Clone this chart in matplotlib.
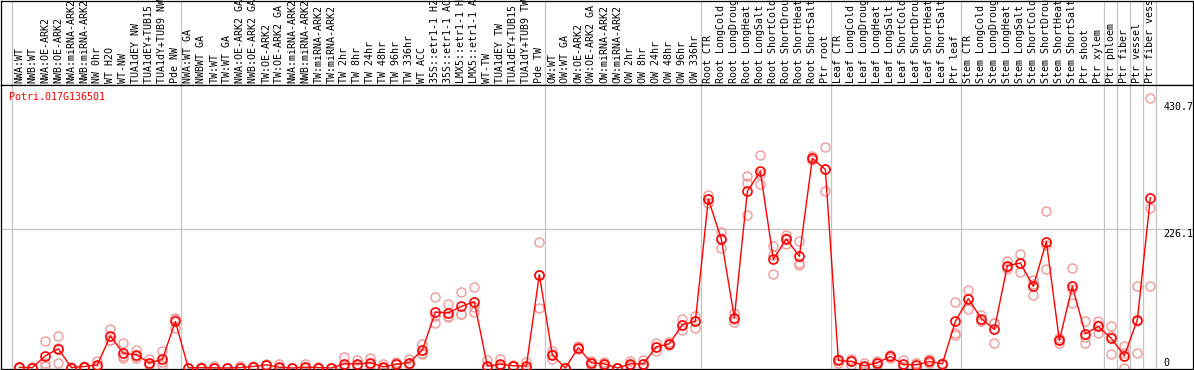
import matplotlib
matplotlib.use("Agg")
import matplotlib.pyplot as plt
import numpy as np

gene = "Potri.017G136501"

labels = [
    # group 1
    "NWA:WT", "NWB:WT", "NWA:OE-ARK2", "NWB:OE-ARK2", "NWA:miRNA-ARK2", "NWB:miRNA-ARK2",
    "NW 0hr", "WT H2O", "WT-NW", "TUA1dEY NW", "TUA1dEY+TUB15 NW", "TUA1dY+TUB9 NW", "Pde NW",
    # group 2
    "NWA:WT GA", "NWBWT GA", "TW:WT", "TW:WT GA", "NWA:OE-ARK2 GA", "NWB:OE-ARK2 GA",
    "TW:OE-ARK2", "TW:OE-ARK2 GA", "NWA:miRNA-ARK2", "NWB:miRNA-ARK2", "TW:miRNA-ARK2",
    "TW:miRNA-ARK2", "TW 2hr", "TW 8hr", "TW 24hr", "TW 48hr", "TW 96hr", "TW 336hr", "WT ACC",
    "35S::etr1-1 H2O", "35S::etr1-1 ACC", "LMX5::etr1-1 H2O", "LMX5::etr1-1 ACC", "WT-TW",
    "TUA1dEY TW", "TUA1dEY+TUB15 TW", "TUA1dY+TUB9 TW", "Pde TW",
    # group 3
    "OW:WT", "OW:WT GA", "OW:OE-ARK2", "OW:OE-ARK2 GA", "OW:miRNA-ARK2", "OW:miRNA-ARK2",
    "OW 2hr", "OW 8hr", "OW 24hr", "OW 48hr", "OW 96hr", "OW 336hr",
    # group 4
    "Root CTR", "Root LongCold", "Root LongDrought", "Root LongHeat", "Root LongSalt",
    "Root ShortCold", "Root ShortDrought", "Root ShortHeat", "Root ShortSalt", "Ptr root",
    # group 5
    "Leaf CTR", "Leaf LongCold", "Leaf LongDrought", "Leaf LongHeat", "Leaf LongSalt",
    "Leaf ShortCold", "Leaf ShortDrought", "Leaf ShortHeat", "Leaf ShortSalt", "Ptr leaf",
    # group 6
    "Stem CTR", "Stem LongCold", "Stem LongDrought", "Stem LongHeat", "Stem LongSalt",
    "Stem ShortCold", "Stem ShortDrought", "Stem ShortHeat", "Stem ShortSalt", "Ptr shoot",
    "Ptr xylem",
    # single columns
    "Ptr phloem", "Ptr fiber", "Ptr vessel", "Ptr fiber vessel",
]

# first column of each group
group_starts = [0, 13, 41, 53, 63, 73, 84, 85, 86, 87, 88]

means = [
    1, 0.5, 19.8, 31.2, 0.8, 2.4, 5.2, 51.7, 24, 21.4, 8.4, 13.8, 75.5,
    0.3, 0.5, 0.3, 0, 0.8, 2.4, 5.2, 1.3, 0, 1.3, 0.8, 0, 6.8, 6.8, 8.4, 1.8,
    6.2, 8.9, 29, 90.6, 89.6, 99.9, 107.5, 3, 6.2, 3.6, 3, 151.4,
    21.4, 0, 33, 8.4, 6.8, 0, 6.8, 6.8, 34.4, 39.3, 70.2, 75.5,
    273.7, 208.7, 81.5, 286.2, 318.7, 176.2, 209.2, 181.1, 339.8, 321.9,
    12.2, 10.6, 3.6, 8.4, 18.7, 5.7, 5.2, 10.6, 6.8, 75.5,
    112.4, 79.9, 62.5, 166, 170.2, 132.4, 205, 44.7, 132.4, 55.5, 67.4,
    47.9, 19.8, 78.3, 276.4,
]

reps = [
    [0, 1, 2], [0, 0.5, 1], [43, 7.8, 3.6], [52, 33, 8.4], [0, 1, 1.5], [1, 2.4, 4],
    [11, 2, 2.5], [64, 45.8, 45], [39.8, 18.7, 16], [28.4, 16.6, 20], [14.3, 6, 5],
    [27.3, 5.2, 9], [81.5, 65.3, 80],
    [0, 0.5, 0.5], [0, 1, 0.5], [2.5, 0, 0], [0, 0, 0], [4, 0, 0], [3, 2, 2], [5, 6, 4.5],
    [7.3, 0, 0], [0, 0, 0], [6, 0, 0], [1, 1, 0.5], [0, 0, 0], [17.6, 1.5, 1.5],
    [12.7, 5, 3], [16, 6, 3], [6, 0, 0], [0, 8, 10.5], [15, 6, 6], [38.7, 23, 25],
    [114.5, 73.4, 84], [103, 82, 84], [123.7, 87.4, 88], [131.9, 91.3, 99], [12.7, 0, 0],
    [13.8, 3, 2], [5, 3, 3], [9, 0, 0], [205, 151, 97.8],
    [28, 22, 13.8], [0, 0, 0], [35, 33, 31], [5, 12, 8], [3, 10, 7], [0, 0, 0],
    [12, 5, 3], [12.7, 2, 6], [41, 28, 34], [42, 39, 37], [79.9, 62, 69], [85, 64.6, 77],
    [280.7, 266.7, 274], [220.6, 195.2, 210], [89.7, 74.4, 80], [311, 300, 248.8],
    [344.6, 297.5, 314], [197.8, 151.9, 183.8], [215.2, 201.7, 210], [205.5, 166.5, 171],
    [343.5, 339, 337], [357.6, 286.2, 322],
    [8, 15, 13], [5, 15, 12], [8, 1, 2], [5, 12, 8], [16, 21, 19], [13.3, 2, 2],
    [0, 8, 7.5], [8, 14, 10], [6, 7, 7.5], [107.5, 57.2, 54],
    [127, 96.2, 114], [85.3, 77, 77], [73.4, 41, 73], [174, 163, 161], [184.3, 156.2, 170],
    [143.2, 117.8, 136], [255.3, 161.1, 199], [48, 41, 45], [162.7, 105.9, 128],
    [75.5, 41, 50], [75.5, 57.2, 69],
    [68.5, 23, 52], [34.9, 0, 24], [133.5, 24.7, 77], [437.2, 260.2, 133.5],
]

yticks = [430.7, 226.1, 0]

W, H = 1194, 370
fig = plt.figure(figsize=(W / 100, H / 100), dpi=100)


def px_box(x0, y0, x1, y1):
    return [x0 / W, 1 - y1 / H, (x1 - x0) / W, (y1 - y0) / H]


head = fig.add_axes(px_box(1, 0.5, 1193, 85))
ax = fig.add_axes(px_box(1, 85, 1193, 368.5))

xlim = (-1.41, 90.28)
mono = "DejaVu Sans Mono"
fs = 7.2
grid_c = "#c4c4c4"

for a in (head, ax):
    a.set_xlim(*xlim)
    a.set_xticks([])
    a.set_yticks([])
    for s in a.spines.values():
        s.set_color("black")
        s.set_linewidth(0.9)
    for g in group_starts:
        a.axvline(g - 0.55, color=grid_c, lw=0.9, zorder=0)

head.set_ylim(0, 1)
for i, lab in enumerate(labels):
    head.text(i, 0.02, lab, rotation=90, ha="center", va="bottom",
              family=mono, fontsize=fs, color="black")

ax.set_ylim(-0.8, 458.8)
ax.axhline(226.1, color=grid_c, lw=0.9, zorder=0)

x = np.arange(len(labels))
for i, r in enumerate(reps):
    ax.plot([i] * len(r), r, "o", ms=6.5, mfc="none", mec="#f09a9a", mew=1.0,
            zorder=2, clip_on=False)
ax.plot(x, means, "-o", color="red", lw=1.0, ms=6.5, mfc="none", mec="red",
        mew=1.2, zorder=3)

for v in yticks:
    ax.text(len(labels), v, f"{v:g}", ha="left", va="top" if v > 0 else "bottom",
            family=mono, fontsize=fs, color="black")

fig.text(9 / W, 1 - 92 / H, gene, ha="left", va="top", family=mono,
         fontsize=fs, color="red")

fig.savefig("out.png", dpi=100, facecolor="white")
